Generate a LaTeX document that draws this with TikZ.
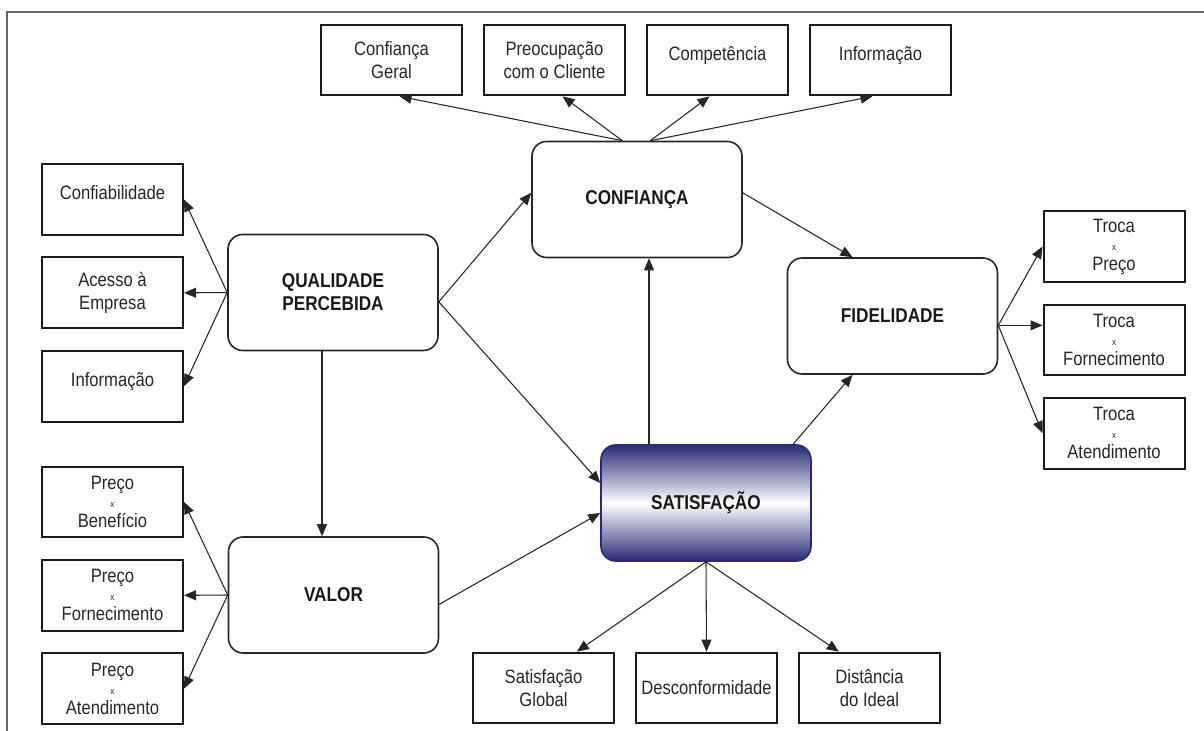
\documentclass[tikz,border=0pt]{standalone}
\usepackage{fontspec}
\setmainfont{Liberation Sans}[FakeStretch=0.86]
\usetikzlibrary{arrows.meta,positioning}
\definecolor{satblue}{RGB}{40,42,118}

\begin{document}
\begin{tikzpicture}[x=0.75pt,y=-0.75pt,>={Triangle[length=9pt,width=7.5pt]},
	node distance=122.25pt,
	every edge/.style = {draw=black!85,line width=0.8pt},
	small node/.style = {rectangle,draw=black!90,line width=1.5pt,minimum width=105.75pt,minimum height=53pt,inner sep=0pt,align=center,text=black!85,font=\fontsize{14.5}{17.5}\selectfont},
	high text/.style = {text depth=10pt},
	main node/.style = {rectangle,rounded corners=11pt,draw=black!85,line width=1.2pt,minimum width=157.5pt,minimum height=87pt,align=center,text=black!90,font=\fontsize{15}{17.25}\selectfont\bfseries}]
	
	\useasboundingbox (0,0) rectangle (1204,731);
	\draw[black!60,line width=1.5pt] (7,745) -- (7,12) -- (1215,12);
	
	% central constructs
	\node[main node] (qp) at (333,292.5) {QUALIDADE\\PERCEBIDA};
	\node[main node] (con) at (637,199.5) {CONFIANÇA};
	\node[main node] (val) at (333.5,595) {VALOR};
	\node[main node] (fid) at (892.5,316) {FIDELIDADE};
	\node[main node,draw=satblue,top color=satblue,bottom color=satblue,middle color=white] (sat) at (706,503) {SATISFAÇÃO};
	
	% indicators
	\node[small node] (cg) at (391.5,60) {Confiança\\Geral};
	\node[small node] [right of = cg] (pc) {Preocupação\\com o Cliente};
	\node[small node,high text] [right of = pc] (co) {Competência};
	\node[small node,high text] [right of = co] (inc) {Informação};
	
	\node[small node,high text] (conf) at (112.5,199.5) {Confiabilidade};
	\node[small node,node distance=70pt] [below of = conf] (acc) {Acesso à\\Empresa};
	\node[small node,high text,node distance=70pt] [below of = acc] (inq) {Informação};
	
	\node[small node] (pb) at (112.5,502) {Preço\\[-4pt]{\scriptsize x}\\[-2.5pt]Benefício};
	\node[small node,node distance=70pt] [below of = pb] (pf) {Preço\\[-4pt]{\scriptsize x}\\[-2.5pt]Fornecimento};
	\node[small node,node distance=70pt] [below of = pf] (pa) {Preço\\[-4pt]{\scriptsize x}\\[-2.5pt]Atendimento};
	
	\node[small node] (tp) at (1114,246.5) {Troca\\[-4pt]{\scriptsize x}\\[-2.5pt]Preço};
	\node[small node,node distance=70pt] [below of = tp] (tf) {Troca\\[-4pt]{\scriptsize x}\\[-2.5pt]Fornecimento};
	\node[small node,node distance=70pt] [below of = tf] (ta) {Troca\\[-4pt]{\scriptsize x}\\[-2.5pt]Atendimento};
	
	\node[small node] (sg) at (543.5,688) {Satisfação\\Global};
	\node[small node] [right of = sg] (de) {Desconformidade};
	\node[small node] [right of = de] (di) {Distância\\do Ideal};
	
	\coordinate (ct1) at ([xshift=-11pt]con.north);
	\coordinate (ct2) at ([xshift=10pt]con.north);
	\coordinate (qo) at ([yshift=-7pt]qp.east);
	\coordinate (vo) at ([yshift=-7pt]val.east);
	\coordinate (qv) at ([xshift=-8.25pt]qp.south);
	\coordinate (sc) at ([xshift=9pt]con.south);
	\coordinate (fo) at ([yshift=-7pt]fid.east);
	
	\path[->] (ct1) edge ([xshift=6pt]cg.south);
	\path[->] (ct1) edge ([xshift=6pt]pc.south);
	\path[->] (ct2) edge ([xshift=-6pt]co.south);
	\path[->] (ct2) edge ([xshift=-6pt]inc.south);
	
	\path[->] (qp.west) edge (conf.east);
	\path[->] (qp.west) edge (acc.east);
	\path[->] (qp.west) edge (inq.east);
	\path[->] (val.west) edge (pb.east);
	\path[->] (val.west) edge (pf.east);
	\path[->] (val.west) edge (pa.east);
	
	\path[->] (qo) edge ([yshift=5pt]con.west);
	\path[->] (qo) edge ([yshift=15pt]sat.west);
	\path[->] (vo) edge ([yshift=-7.5pt]sat.west);
	\path[->] (qv) edge (qv |- val.north);
	\path[->] (sc |- sat.north) edge (sc);
	\path[->] ([yshift=5pt]con.east) edge ([xshift=-30pt]fid.north);
	\path[->] ([xshift=-14pt]sat.north east) edge ([xshift=-30pt]fid.south);
	
	\path[->] (sat.south) edge ([xshift=25pt]sg.north);
	\path[->] (sat.south) edge (de.north);
	\path[->] (sat.south) edge ([xshift=-23pt]di.north);
	
	\path[->] (fo) edge (tp.west);
	\path[->] (fo) edge (fo -| tf.west);
	\path[->] (fo) edge (ta.west);
	
\end{tikzpicture}
\end{document}
